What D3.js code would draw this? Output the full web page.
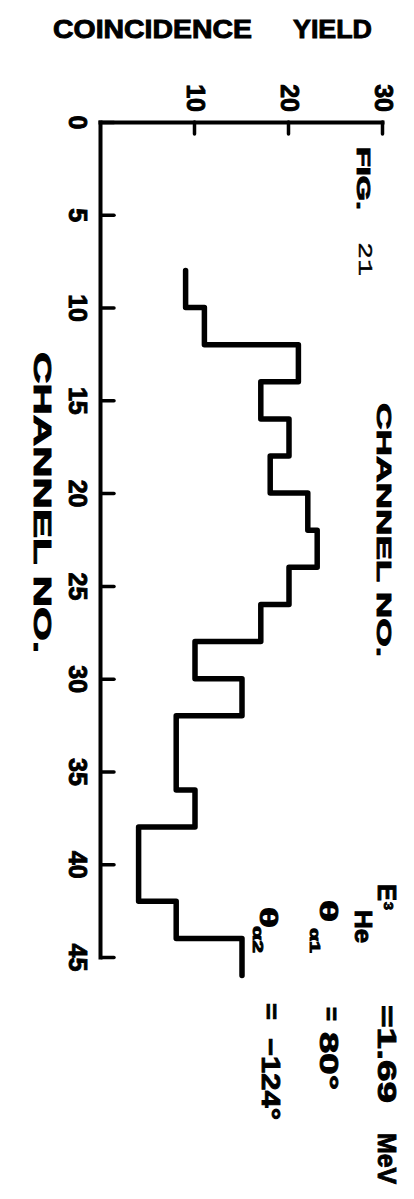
<!DOCTYPE html>
<html>
<head>
<meta charset="utf-8">
<script src="https://cdn.jsdelivr.net/npm/d3@7"></script>
<style>
  body { margin: 0; background: #fff; }
</style>
</head>
<body>
<div id="chart"></div>
<script>
// channel bins (each 2 channels wide) and the coincidence yield in each
const binStarts = [8, 10, 12, 14, 16, 18, 20, 22, 24, 26, 28, 30, 32, 34, 36, 38, 40, 42, 44];
const yieldValues = [9, 11, 21, 17, 20, 18, 22, 23, 20, 17, 10, 15, 8, 8, 10, 4, 4, 8, 15];
const binWidth = 2;

const channelTicks = [0, 5, 10, 15, 20, 25, 30, 35, 40, 45];
const yieldTicks = [10, 20, 30];

const width = 414;
const height = 1199;
const font = "'Liberation Sans', Arial, sans-serif";

const svg = d3.create("svg")
    .attr("width", width)
    .attr("height", height)
    .attr("viewBox", [0, 0, width, height]);

svg.append("rect").attr("width", width).attr("height", height).attr("fill", "#fff");

// The page is turned a quarter clockwise: draw a normal chart in g and rotate it
const g = svg.append("g")
    .attr("transform", "translate(101,122) rotate(90)");

const x = d3.scaleLinear().domain([0, 45]).range([0, 835]);   // channel no.
const y = d3.scaleLinear().domain([0, 30]).range([0, -282]);  // coincidence yield

// Channel axis
const xAxis = g.append("g")
    .call(d3.axisBottom(x).tickValues(channelTicks).tickSizeInner(-13).tickSizeOuter(0).tickPadding(14));

// Yield axis
const yAxis = g.append("g")
    .call(d3.axisLeft(y).tickValues(yieldTicks).tickSizeInner(-12).tickSizeOuter(0).tickPadding(10));

[xAxis, yAxis].forEach(ax => {
    ax.attr("font-family", font).attr("font-size", 25).attr("font-weight", "bold");
    ax.select(".domain").attr("stroke", "#000").attr("stroke-width", 4).attr("stroke-linecap", "square");
    ax.selectAll(".tick line").attr("stroke", "#000").attr("stroke-width", 3.5).attr("stroke-linecap", "round");
    ax.selectAll(".tick text").attr("fill", "#000")
        .attr("stroke", "#000").attr("stroke-width", 0.9);
});

// Histogram as a step line
const points = binStarts.map((c, i) => [c, yieldValues[i]]);
points.push([binStarts[binStarts.length - 1] + binWidth, yieldValues[yieldValues.length - 1]]);

const line = d3.line()
    .x(d => x(d[0]))
    .y(d => y(d[1]))
    .curve(d3.curveStepAfter);

g.append("path")
    .datum(points)
    .attr("fill", "none")
    .attr("stroke", "#000")
    .attr("stroke-width", 5.5)
    .attr("stroke-linejoin", "round")
    .attr("stroke-linecap", "round")
    .attr("d", line);

// Texts inside the turned page
const ann = g.append("g")
    .attr("font-family", font)
    .attr("font-weight", "bold")
    .attr("fill", "#000")
    .attr("stroke", "#000")
    .attr("stroke-width", 0.9);

function addText(str, u, v, size, len) {
    const t = ann.append("text")
        .attr("x", u)
        .attr("y", v)
        .attr("font-size", size)
        .text(str);
    if (len) t.attr("textLength", len).attr("lengthAdjust", "spacingAndGlyphs");
    return t;
}

addText("CHANNEL NO.", 230, 67, 23, 301);
addText("CHANNEL NO.", 281, -276, 21, 254);
addText("FIG.", 25, -256, 18, 63);
addText("21", 120, -258, 21, 34)
    .attr("font-family", "'Liberation Mono', 'Courier New', monospace")
    .attr("font-weight", "normal")
    .attr("stroke-width", 0.4);

// E(3He) = 1.69 MeV
addText("E", 762, -277, 26, 17);
addText("3", 780, -283, 13, 8);
addText("He", 788, -254, 24, 33);
addText("=1.69", 883, -277, 26, 98);
addText("MeV", 1011, -277, 26, 51);

// theta alpha1 = 80
addText("θ", 778, -219, 24, 22);
addText("α1", 806, -209, 15, 25);
addText("=", 885, -222, 24, 14);
addText("80°", 910, -219, 26, 58);

// theta alpha2 = -124
addText("θ", 785, -159, 24, 21);
addText("α2", 804, -152, 15, 27);
addText("=", 881, -162, 24, 17);
addText("−124°", 916, -161, 26, 82);

// Title across the top, not turned
svg.append("text")
    .attr("x", 53).attr("y", 38)
    .attr("font-family", font).attr("font-weight", "bold").attr("font-size", 25)
    .attr("stroke", "#000").attr("stroke-width", 0.9)
    .attr("textLength", 199).attr("lengthAdjust", "spacingAndGlyphs")
    .text("COINCIDENCE");
svg.append("text")
    .attr("x", 293).attr("y", 38)
    .attr("font-family", font).attr("font-weight", "bold").attr("font-size", 25)
    .attr("stroke", "#000").attr("stroke-width", 0.9)
    .attr("textLength", 79).attr("lengthAdjust", "spacingAndGlyphs")
    .text("YIELD");

document.getElementById("chart").append(svg.node());
</script>
</body>
</html>
